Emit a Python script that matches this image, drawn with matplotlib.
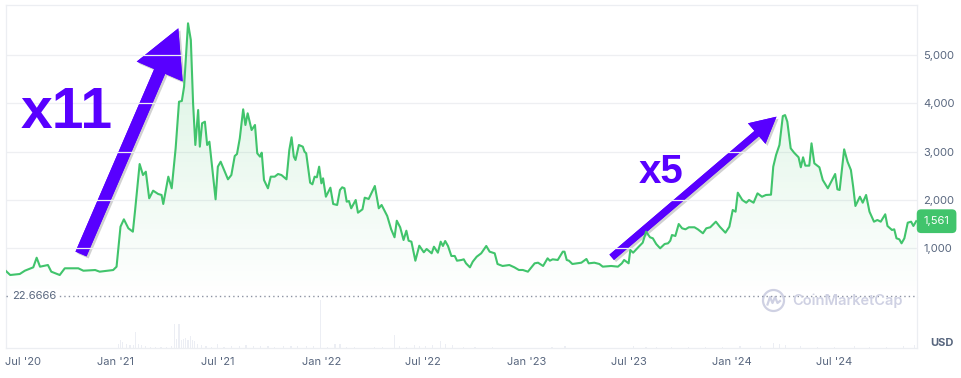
import numpy as np
import pandas as pd
import matplotlib
matplotlib.use("Agg")
import matplotlib.pyplot as plt
import matplotlib.dates as mdates
import matplotlib.colors as mcolors
import matplotlib.patheffects as pe
from matplotlib.patches import Polygon, FancyArrow, Circle
from matplotlib.lines import Line2D
from matplotlib.transforms import IdentityTransform, ScaledTranslation, blended_transform_factory

plt.rcParams['font.family'] = ['Inter', 'DejaVu Sans']

# ---------------- data ----------------
dates = [
    "2020-06-19", "2020-06-27", "2020-07-14", "2020-07-23", "2020-08-07", "2020-08-13", "2020-08-19",
    "2020-09-02", "2020-09-08", "2020-09-23", "2020-10-02", "2020-10-26", "2020-11-04", "2020-11-25",
    "2020-12-03", "2020-12-27", "2021-01-02", "2021-01-09", "2021-01-15", "2021-01-23", "2021-01-31",
    "2021-02-04", "2021-02-12", "2021-02-18", "2021-02-23", "2021-03-01", "2021-03-08", "2021-03-17",
    "2021-03-23", "2021-03-26", "2021-04-04", "2021-04-10", "2021-04-17", "2021-04-23", "2021-04-28",
    "2021-05-02", "2021-05-09", "2021-05-14", "2021-05-18", "2021-05-22", "2021-05-27", "2021-05-30",
    "2021-06-03", "2021-06-08", "2021-06-12", "2021-06-16", "2021-06-27", "2021-07-01", "2021-07-06",
    "2021-07-19", "2021-07-25", "2021-07-31", "2021-08-04", "2021-08-09", "2021-08-15", "2021-08-19",
    "2021-08-23", "2021-08-30", "2021-09-05", "2021-09-09", "2021-09-14", "2021-09-17", "2021-09-21",
    "2021-09-28", "2021-10-03", "2021-10-10", "2021-10-16", "2021-10-22", "2021-10-31", "2021-11-05",
    "2021-11-09", "2021-11-13", "2021-11-16", "2021-11-22", "2021-11-29", "2021-12-02", "2021-12-05",
    "2021-12-12", "2021-12-16", "2021-12-20", "2021-12-24", "2021-12-28", "2022-01-01", "2022-01-04",
    "2022-01-09", "2022-01-17", "2022-01-22", "2022-01-29", "2022-02-03", "2022-02-07", "2022-02-11",
    "2022-02-15", "2022-02-19", "2022-02-23", "2022-03-03", "2022-03-07", "2022-03-15", "2022-03-19",
    "2022-03-26", "2022-04-06", "2022-04-13", "2022-04-18", "2022-04-28", "2022-05-05", "2022-05-11",
    "2022-05-15", "2022-05-21", "2022-05-27", "2022-06-01", "2022-06-05", "2022-06-10", "2022-06-17",
    "2022-06-24", "2022-07-02", "2022-07-07", "2022-07-16", "2022-07-20", "2022-07-27", "2022-08-01",
    "2022-08-05", "2022-08-09", "2022-08-14", "2022-08-20", "2022-08-26", "2022-08-30", "2022-09-07",
    "2022-09-11", "2022-09-15", "2022-09-22", "2022-09-27", "2022-10-04", "2022-10-12", "2022-10-21",
    "2022-10-27", "2022-11-05", "2022-11-10", "2022-11-19", "2022-12-01", "2022-12-10", "2022-12-18",
    "2022-12-25", "2023-01-03", "2023-01-15", "2023-01-21", "2023-01-30", "2023-02-07", "2023-02-11",
    "2023-02-16", "2023-02-25", "2023-03-06", "2023-03-09", "2023-03-13", "2023-03-17", "2023-03-23",
    "2023-04-08", "2023-04-17", "2023-04-21", "2023-05-01", "2023-05-10", "2023-05-16", "2023-05-31",
    "2023-06-12", "2023-06-19", "2023-06-23", "2023-07-01", "2023-07-04", "2023-07-09", "2023-07-19",
    "2023-07-26", "2023-08-01", "2023-08-08", "2023-08-13", "2023-08-19", "2023-08-26", "2023-09-03",
    "2023-09-09", "2023-09-13", "2023-09-16", "2023-09-22", "2023-09-28", "2023-10-04", "2023-10-10",
    "2023-10-16", "2023-10-26", "2023-11-01", "2023-11-10", "2023-11-16", "2023-11-23", "2023-12-03",
    "2023-12-10", "2023-12-20", "2023-12-27", "2024-01-02", "2024-01-07", "2024-01-11", "2024-01-19",
    "2024-01-26", "2024-01-31", "2024-02-08", "2024-02-15", "2024-02-23", "2024-03-01", "2024-03-10",
    "2024-03-14", "2024-03-19", "2024-03-25", "2024-03-31", "2024-04-04", "2024-04-08", "2024-04-14",
    "2024-04-20", "2024-04-28", "2024-05-02", "2024-05-06", "2024-05-10", "2024-05-17", "2024-05-21",
    "2024-05-26", "2024-06-04", "2024-06-10", "2024-06-19", "2024-06-25", "2024-07-02", "2024-07-06",
    "2024-07-10", "2024-07-18", "2024-07-24", "2024-07-30", "2024-08-03", "2024-08-07", "2024-08-15",
    "2024-08-20", "2024-08-26", "2024-09-01", "2024-09-09", "2024-09-15", "2024-09-21", "2024-09-29",
    "2024-10-03", "2024-10-11", "2024-10-15", "2024-10-19", "2024-10-24", "2024-10-28", "2024-11-02",
    "2024-11-08", "2024-11-14", "2024-11-18", "2024-11-23",
]
prices = [
    535, 447, 468, 536, 606, 805, 619,
    654, 516, 447, 586, 586, 536, 550,
    516, 550, 619, 1447, 1600, 1414, 1344,
    1793, 2745, 2517, 2586, 2035, 2193, 2124,
    2104, 1917, 2483, 2242, 3070, 4035, 4050,
    4346, 5658, 5313, 4002, 3139, 3863, 3104,
    3588, 3621, 3139, 3207, 2014, 2690, 2793,
    2428, 2517, 2911, 2952, 3277, 3877, 3553,
    3795, 3449, 3553, 2967, 2897, 2980, 2414,
    2242, 2483, 2483, 2538, 2517, 2428, 3035,
    3298, 2897, 2828, 3139, 3104, 3000, 2967,
    2358, 2325, 2483, 2470, 2690, 2345, 2449,
    2068, 2255, 1917, 1897, 2207, 2263, 2242,
    1965, 1979, 1828, 2000, 1737, 1807, 2048,
    2021, 2290, 1828, 1897, 1669, 1393, 1228,
    1571, 1435, 1172, 1364, 1157, 1137, 743,
    1054, 917, 986, 896, 1033, 909, 1137,
    1048, 1151, 1048, 841, 841, 743, 758,
    772, 689, 606, 723, 826, 896, 1048,
    930, 896, 675, 634, 654, 606, 551,
    551, 516, 689, 702, 634, 793, 743,
    772, 758, 930, 930, 758, 743, 675,
    702, 779, 689, 702, 675, 620, 634,
    620, 689, 758, 689, 965, 909, 1033,
    1116, 1344, 1228, 1207, 1089, 1000, 1089,
    1103, 1157, 1275, 1255, 1503, 1414, 1393,
    1435, 1435, 1393, 1311, 1414, 1435, 1551,
    1447, 1323, 1447, 1793, 1758, 2151, 2000,
    1944, 2000, 1944, 2138, 2068, 2104, 2110,
    2690, 2932, 3139, 3737, 3758, 3621, 3070,
    2980, 2884, 2677, 2884, 2711, 2711, 3173,
    2759, 2677, 2414, 2242, 2380, 2538, 2221,
    2207, 3049, 2793, 2621, 2276, 1876, 2068,
    1944, 2104, 1758, 1551, 1586, 1551, 1704,
    1462, 1379, 1393, 1207, 1186, 1103, 1207,
    1530, 1551, 1462, 1561,
]

vol_dates = [
    "2021-01-05", "2021-01-09", "2021-01-13", "2021-01-19", "2021-01-26", "2021-02-01", "2021-02-05",
    "2021-02-10", "2021-02-16", "2021-02-23", "2021-03-03", "2021-03-12", "2021-03-22", "2021-04-01",
    "2021-04-09", "2021-04-15", "2021-04-19", "2021-04-23", "2021-04-27", "2021-05-01", "2021-05-05",
    "2021-05-09", "2021-05-13", "2021-05-17", "2021-05-21", "2021-05-26", "2021-06-02", "2021-06-10",
    "2021-06-20", "2021-07-01", "2021-07-12", "2021-07-25", "2021-08-08", "2021-08-20", "2021-09-03",
    "2021-09-15", "2021-09-28", "2021-10-10", "2021-10-25", "2021-11-08", "2021-11-20", "2021-12-05",
    "2021-12-18", "2021-12-31", "2022-01-12", "2022-01-25", "2022-02-03", "2022-02-15", "2022-03-01",
    "2022-03-20", "2022-04-05", "2022-04-20", "2022-05-11", "2022-05-20", "2022-06-01", "2022-06-15",
    "2022-06-25", "2022-07-05", "2022-07-18", "2022-08-01", "2022-08-10", "2022-08-22", "2022-09-10",
    "2022-10-01", "2022-11-01", "2022-12-01", "2023-01-10", "2023-02-15", "2023-03-10", "2023-04-20",
    "2023-06-01", "2023-07-10", "2023-08-01", "2023-08-20", "2023-09-15", "2023-10-15", "2023-11-15",
    "2023-12-15", "2024-01-15", "2024-02-20", "2024-03-15", "2024-03-25", "2024-04-05", "2024-05-01",
    "2024-06-01", "2024-07-01", "2024-08-05", "2024-09-01", "2024-10-01", "2024-11-01", "2024-11-20",
]
vol_values = [
    40, 80, 60, 45, 35, 30, 165,
    40, 30, 25, 15, 10, 10, 15,
    20, 240, 90, 240, 85, 95, 100,
    85, 125, 85, 70, 45, 30, 20,
    15, 40, 15, 20, 25, 30, 25,
    20, 20, 15, 20, 25, 20, 25,
    20, 480, 15, 40, 45, 15, 10,
    8, 10, 10, 130, 25, 15, 30,
    25, 20, 35, 70, 40, 35, 15,
    10, 10, 8, 8, 10, 20, 8,
    8, 20, 15, 12, 10, 10, 12,
    15, 20, 25, 50, 45, 30, 20,
    15, 15, 20, 10, 12, 20, 30,
]

y_ticks = [1000, 2000, 3000, 4000, 5000]
y_ticklabels = ["1,000", "2,000", "3,000", "4,000", "5,000"]
x_ticks = ["2020-07-01", "2021-01-01", "2021-07-01", "2022-01-01", "2022-07-01",
           "2023-01-01", "2023-07-01", "2024-01-01", "2024-07-01"]
x_ticklabels = ["Jul '20", "Jan '21", "Jul '21", "Jan '22", "Jul '22",
                "Jan '23", "Jul '23", "Jan '24", "Jul '24"]
ref_level = 22.6666
last_price = prices[-1]

# ---------------- style ----------------
GREEN = '#41c46c'
PURPLE = '#5800ff'
TXT = '#58667e'
FRAME = '#eceef2'
GRID = '#eeeff2'

W, H = 962, 378
fig = plt.figure(figsize=(W / 100, H / 100), dpi=100)
fig.patch.set_facecolor('white')

def fx(px):
    return px / W

def fy(py):
    return 1 - py / H

L, R = 5.7, 916.7
T, MID, B = 5.0, 296.6, 348.3
axv = fig.add_axes([fx(L), fy(B), fx(R) - fx(L), fy(MID) - fy(B)])
ax = fig.add_axes([fx(L), fy(MID), fx(R) - fx(L), fy(T) - fy(MID)])
axv.patch.set_alpha(0)
ax.patch.set_alpha(0)
ax.set_zorder(2)
axv.set_zorder(1)

d = pd.to_datetime(dates)
xn = mdates.date2num(d)
x0 = mdates.date2num(pd.Timestamp("2020-06-19"))
x1 = mdates.date2num(pd.Timestamp("2024-11-23 22:00"))
YMAX = 6037

# gradient fill under the line
verts = np.column_stack([np.r_[xn[0], xn, xn[-1]], np.r_[0, prices, 0]])
poly = Polygon(verts, closed=True, fc='none', ec='none')
ax.add_patch(poly)
n = 256
rgba = np.zeros((n, 1, 4))
rgba[..., :3] = mcolors.to_rgb(GREEN)
rgba[:, 0, 3] = np.linspace(0.22, 0.0, n)
im = ax.imshow(rgba, extent=[x0, x1, 0, YMAX], aspect='auto', origin='upper', zorder=1,
               interpolation='bilinear')
im.set_clip_path(poly)

ax.plot(d, prices, color=GREEN, lw=1.5, zorder=3, solid_joinstyle='round')
ax.set_xlim(x0, x1)
ax.set_ylim(0, YMAX)

ax.set_yticks(y_ticks)
ax.set_yticklabels(y_ticklabels)
ax.yaxis.tick_right()
ax.tick_params(axis='y', length=0, pad=4.6, labelsize=8, labelcolor=TXT)
ax.tick_params(axis='x', bottom=False, labelbottom=False)
ax.yaxis.grid(True, color=GRID, lw=0.9)
ax.set_axisbelow(True)
for s in ['left', 'top', 'right']:
    ax.spines[s].set_color(FRAME)
    ax.spines[s].set_linewidth(0.9)
ax.spines['bottom'].set_visible(False)

# reference dotted line
ax.axhline(ref_level, color='#8d93a3', lw=1.0, ls=(0, (1, 2.2)), zorder=4, clip_on=False)
ax.text((12.3 - L) / (R - L), ref_level, f"{ref_level:.4f}",
        transform=blended_transform_factory(ax.transAxes, ax.transData),
        ha='left', va='center', fontsize=8, color=TXT, zorder=5, clip_on=False,
        bbox=dict(boxstyle='square,pad=0.15', fc='white', ec='none'))

# last price badge
ax.annotate(f"{last_price:,}", xy=(1.0, last_price),
            xycoords=blended_transform_factory(ax.transAxes, ax.transData),
            xytext=(5.0, 0), textcoords='offset points', ha='left', va='center',
            fontsize=8, color='white', annotation_clip=False, zorder=6,
            bbox=dict(boxstyle='round,pad=0.62,rounding_size=0.4', fc=GREEN, ec='none'))

# volume pane
vd = pd.to_datetime(vol_dates)
axv.bar(vd, vol_values, width=2.2, color='#eceef4', align='center')
axv.set_xlim(x0, x1)
axv.set_ylim(0, 517)
axv.set_yticks([])
axv.set_xticks(pd.to_datetime(x_ticks))
axv.set_xticklabels(x_ticklabels)
axv.tick_params(axis='x', length=0, pad=6, labelsize=8, labelcolor=TXT)
for s in ['left', 'bottom', 'right']:
    axv.spines[s].set_color(FRAME)
    axv.spines[s].set_linewidth(0.9)
axv.spines['top'].set_visible(False)
first = axv.get_xticklabels()[0]
first.set_horizontalalignment('left')
first.set_transform(first.get_transform() + ScaledTranslation(-7.3 / 100, 0, fig.dpi_scale_trans))

fig.text(fx(930.5), fy(343), "USD", fontsize=8, fontweight='bold', color=TXT, va='center', ha='left')

# watermark
WM = '#cfd1e3'
cx, cy = 773.5, H - 300.5
fig.add_artist(Circle((cx, cy), 10.5, transform=IdentityTransform(), fill=False, ec=WM, lw=1.6))
wx = [cx - 6, cx - 3.5, cx - 1, cx + 1.5, cx + 4, cx + 6.5]
wy = [cy - 4, cy + 3.5, cy - 2.5, cy + 3.5, cy - 2.5, cy - 0.5]
fig.add_artist(Line2D(wx, wy, transform=IdentityTransform(), color=WM, lw=1.6))
fig.text(fx(792.5), fy(300.5), "CoinMarketCap", fontsize=10.5, fontweight='semibold',
         color=WM, va='center', ha='left')

# annotation arrows
shadow = [pe.withSimplePatchShadow(offset=(1.5, -1.5), shadow_rgbFace='black', alpha=0.18), pe.Normal()]
a1 = FancyArrow(81, H - 254, 178.3 - 81, (H - 28.3) - (H - 254), width=12, head_width=50,
                head_length=47, length_includes_head=True, transform=IdentityTransform(),
                fc=PURPLE, ec='none', path_effects=shadow)
fig.add_artist(a1)
a2 = FancyArrow(611.7, H - 257.3, 776.5 - 611.7, (H - 116.7) - (H - 257.3), width=7, head_width=27,
                head_length=26, length_includes_head=True, transform=IdentityTransform(),
                fc=PURPLE, ec='none', path_effects=shadow)
fig.add_artist(a2)

fig.text(fx(20.5), fy(128.3), "x11", fontsize=41, fontweight='bold', family='Liberation Sans',
         color=PURPLE, ha='left', va='baseline')
fig.text(fx(638.5), fy(183), "x5", fontsize=29, fontweight='bold', family='Liberation Sans',
         color=PURPLE, ha='left', va='baseline')

fig.savefig("out.png", dpi=100, facecolor='white')
